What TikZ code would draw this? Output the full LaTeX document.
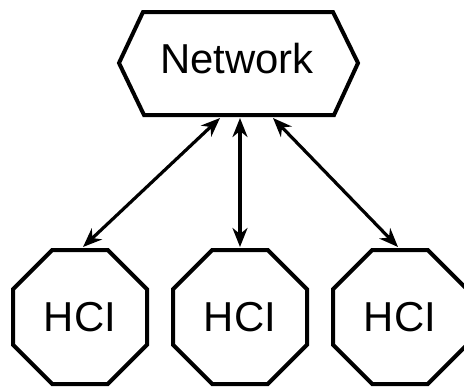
\documentclass[tikz,border=0pt]{standalone}
\usepackage{fontspec}
\setmainfont{Liberation Sans}
\usetikzlibrary{arrows.meta}
\begin{document}
\begin{tikzpicture}[x=1bp,y=-1bp,
  shapeline/.style={line width=4bp,line join=miter,fill=white},
  link/.style={line width=3.2bp,{Stealth[length=19bp,width=15bp,inset=6bp]}-{Stealth[length=19bp,width=15bp,inset=6bp]}},
  lbl/.style={font=\fontsize{42}{42}\selectfont,inner sep=0pt,anchor=base}]
\useasboundingbox (0,0) rectangle (464,387);
% Network hexagon
\draw[shapeline] (143,12) -- (333,12) -- (358,63) -- (334,115) -- (144,115) -- (119,63) -- cycle;
\node[lbl] (net) at (237,73) {Network};
% octagons
\foreach \cx/\nm in {80/h1,240/h2,400/h3}{
  \draw[shapeline] (\cx-27.7,250) -- (\cx+27.7,250) -- (\cx+67,289.3) -- (\cx+67,344.7) -- (\cx+27.7,384) -- (\cx-27.7,384) -- (\cx-67,344.7) -- (\cx-67,289.3) -- cycle;
  \node[lbl] (\nm) at (\cx,331) {HCI};
}
\coordinate (nL) at (220,118);
\coordinate (nM) at (240,118);
\coordinate (nR) at (273,118);
\coordinate (tL) at (83,247);
\coordinate (tM) at (240,247);
\coordinate (tR) at (398,247);
\draw[link] (nL) -- (tL);
\draw[link] (nM) -- (tM);
\draw[link] (nR) -- (tR);
\end{tikzpicture}
\end{document}
